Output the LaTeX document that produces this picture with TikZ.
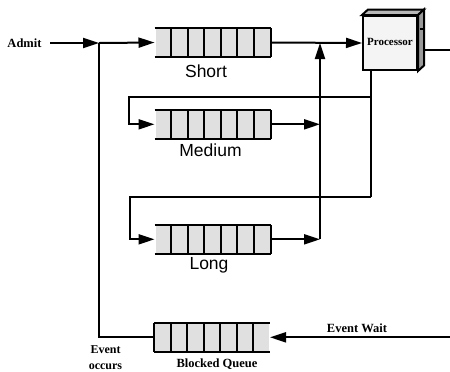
\documentclass[tikz,border=0pt]{standalone}
\usepackage{fontspec}
\setmainfont{Liberation Serif}
\newfontfamily\labelsans{Liberation Sans}
\usetikzlibrary{calc,arrows.meta}
\definecolor{qgray}{HTML}{E0E0E0}
\definecolor{pfront}{HTML}{F4F4F4}
\definecolor{ptop}{HTML}{B8B8B8}
\definecolor{pside}{HTML}{9A9A9A}
\newcommand{\queuecells}[1]{%
  \draw[qline] (#1.north west) -- (#1.north east) (#1.south west) -- (#1.south east);
  \foreach \i in {1,...,6}
    \draw[qline] ($(#1.north west)!\i/7!(#1.north east)$) -- ($(#1.south west)!\i/7!(#1.south east)$);
}
\begin{document}
\begin{tikzpicture}[x=1bp,y=-1bp,
  line width=2bp,
  qline/.style={line width=2bp},
  queue/.style={rectangle, minimum width=114bp, minimum height=26.5bp, inner sep=0pt, fill=qgray},
  arr/.style={-{Triangle[length=16bp,width=10bp]}},
  lbl/.style={font=\bfseries\fontsize{12.5bp}{13bp}\selectfont, inner sep=1bp},
  qname/.style={font=\labelsans\fontsize{17.5bp}{19bp}\selectfont, inner sep=0pt}
]
\useasboundingbox (0,0) rectangle (450,371);
% queues
\node[queue] (short) at (212.5,42.5) {};
\node[queue] (medium) at (212.5,124.3) {};
\node[queue] (long) at (212.5,239.3) {};
\node[queue] (blocked) at (212,337.3) {};
\queuecells{short}
\queuecells{medium}
\queuecells{long}
\queuecells{blocked}
\draw[qline] (short.north east) -- (short.south east);
\draw[qline] (medium.north east) -- (medium.south east);
\draw[qline] (long.north east) -- (long.south east);
\draw[qline] (blocked.north west) -- (blocked.south west);
% queue labels
\node[qname] (shortlbl) at (206,71) {Short};
\node[qname] (mediumlbl) at (210.5,150) {Medium};
\node[qname] (longlbl) at (209,265) {Long};
\node[lbl] (blockedlbl) at (217,364) {Blocked Queue};
% processor
\node[rectangle, draw, fill=pfront, minimum width=54bp, minimum height=54bp, inner sep=0pt] (proc) at (390,43) {};
\filldraw[fill=ptop] (proc.north west) -- ++(6,-5.5) -- ([shift={(6,-5.5)}]proc.north east) -- (proc.north east) -- cycle;
\filldraw[fill=pside] (proc.north east) -- ++(6,-5.5) -- ([shift={(6,-5.5)}]proc.south east) -- (proc.south east) -- cycle;
\node[font=\bfseries\fontsize{11bp}{12bp}\selectfont, inner sep=0pt] (proclbl) at (390,42) {Processor};
\draw[line width=1.4bp] (419.5,29) -- (423,29);
% admit
\node[lbl] (admit) at (24.5,43) {Admit};
\coordinate (admitstart) at (50,43);
\coordinate (j1) at (99,43);
\draw[arr] (admitstart) -- (j1);
\draw[arr] (j1) -- (short.west);
\draw (blocked.west) -| (j1);
% short to processor
\draw[arr] (short.east) -- (proc.west);
% merging vertical line
\coordinate (vtop) at (320,43);
\coordinate (vlong) at (320,239.3);
\draw[arr] (vlong) -- (vtop);
\draw[arr] (medium.east) -- (medium.east -| vtop);
\draw[arr] (long.east) -- (vlong);
% processor feedback
\coordinate (pb) at (371,70);
\coordinate (r1) at (371,97);
\coordinate (r2) at (371,197);
\coordinate (l1) at (129,97);
\coordinate (l2) at (130,197);
\draw (pb) -- (r2);
\draw[arr] (r1) -- (l1) |- (medium.west);
\draw[arr] (r2) -- (l2) |- (long.west);
% processor output
\coordinate (pout) at (423,50);
\coordinate (outR) at (451,50);
\draw (pout) -- (outR);
% event wait
\coordinate (ewR) at (451,337.3);
\draw[arr] (ewR) -- (blocked.east);
\node[lbl] (ewlbl) at (357,328) {Event Wait};
\node[lbl, align=center, font=\bfseries\fontsize{12bp}{16bp}\selectfont] (eolbl) at (105.5,358) {Event\\occurs};
\end{tikzpicture}
\end{document}
